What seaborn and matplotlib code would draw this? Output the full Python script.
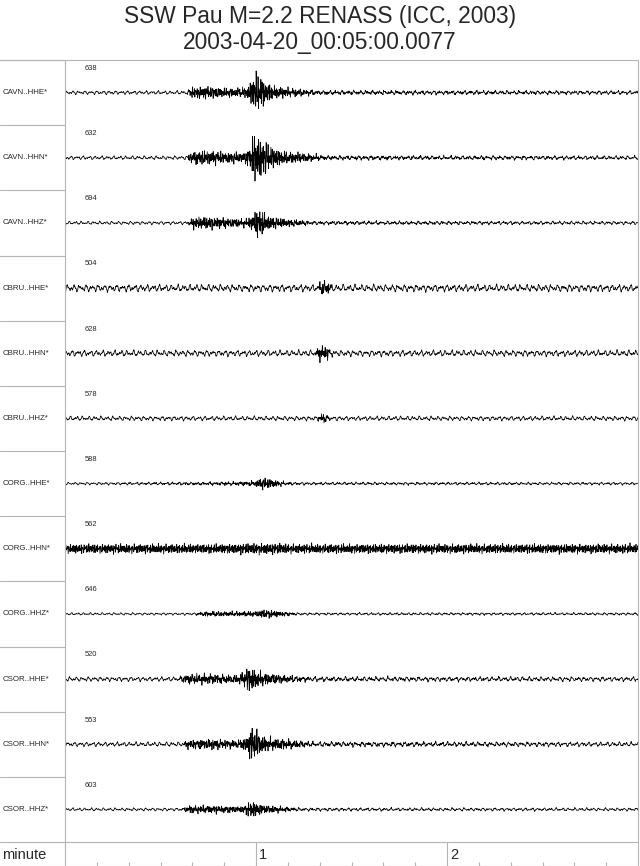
import numpy as np
import pandas as pd
import matplotlib
matplotlib.use('Agg')
import matplotlib.pyplot as plt
import seaborn as sns
from matplotlib.lines import Line2D

# ---- chart data ----
title_line1 = 'SSW Pau M=2.2 RENASS (ICC, 2003)'
title_line2 = '2003-04-20_00:05:00.0077'

channels = ['CAVN..HHE*', 'CAVN..HHN*', 'CAVN..HHZ*',
            'CBRU..HHE*', 'CBRU..HHN*', 'CBRU..HHZ*',
            'CORG..HHE*', 'CORG..HHN*', 'CORG..HHZ*',
            'CSOR..HHE*', 'CSOR..HHN*', 'CSOR..HHZ*']
channel_values = ['638', '632', '694', '504', '628', '578',
                  '588', '562', '646', '520', '553', '603']

# background noise level per trace (normalised amplitude)
noise_level = [1.8, 1.8, 1.6, 3.5, 3.0, 2.2, 1.3, 0.8, 1.2, 2.2, 2.2, 1.5]
# first sample offset (the little step at the start of some traces)
first_sample = [6, 6, 0, 0, 0, 0, 0, 6, 0, 0, 0, 0]

# event envelopes: knot times (s) and amplitude
env_t = [
    [0, 38, 40, 46, 50, 55, 57.5, 59, 60.5, 62, 64, 67, 72, 80, 180],
    [0, 38, 40, 45, 50, 56, 58, 59.5, 61, 63, 66, 69, 75, 82, 180],
    [0, 38.5, 40, 46, 52, 56.5, 58.5, 60, 61.5, 63.5, 67, 72, 78, 180],
    [0, 79, 80.5, 82.5, 84.5, 180],
    [0, 78.5, 80, 82, 84.5, 180],
    [0, 79, 80.5, 82, 83.5, 180],
    [0, 45, 55, 60, 61.5, 64, 68, 72, 180],
    [0, 50, 58, 66, 72, 180],
    [0, 40, 44, 55, 60, 62, 65, 69, 74, 180],
    [0, 35.5, 38, 44, 50, 54, 56, 57.5, 59, 61, 63.5, 68, 77.5, 180],
    [0, 36.5, 39, 46, 52, 55, 57, 58.5, 60, 62, 64, 70, 78, 180],
    [0, 36.5, 39, 46, 52, 55.5, 57, 58.5, 60, 62, 66, 74, 180],
]
env_a = [
    [0, 0, 4.5, 5, 3.5, 3.5, 5, 14, 16, 12, 7, 4.5, 3, 1, 0.5],
    [0, 0, 5, 6, 4.5, 4, 8, 22, 18, 13, 8, 5, 3.5, 1, 0.5],
    [0, 0, 4.5, 5, 3.5, 3, 5, 12, 11, 6, 4, 2.5, 0.8, 0.3],
    [0, 0, 5, 4.5, 0, 0],
    [0, 0, 6, 5, 0, 0],
    [0, 0, 3.5, 3, 0, 0],
    [0, 0.8, 1.2, 2, 5, 4, 1.5, 0.5, 0.3],
    [3.8, 3.8, 4.5, 4.5, 3.8, 3.8],
    [0, 0, 1.8, 1.8, 2, 3.5, 3, 1.5, 0.3, 0.3],
    [0, 0, 3.5, 4, 3, 3, 5, 10, 9, 6, 4.5, 3, 0.8, 0.3],
    [0, 0, 3.5, 4, 3, 3, 6, 14, 12, 7, 5, 3.5, 1, 0.3],
    [0, 0, 3, 3, 2.5, 2.5, 4, 7, 6, 3.5, 2.5, 0.5, 0.2],
]

duration = 180          # seconds shown
minute_labels = ['1', '2']
minute_ticks = [60, 120]
minor_ticks = [10, 20, 30, 40, 50, 70, 80, 90, 100, 110, 130, 140, 150, 160, 170]

# ---- build traces ----
fs = 25.0
t = np.arange(0, duration + 1 / fs, 1 / fs)


def carrier_low(k):
    p = 1.7 * k
    return (np.sin(2 * np.pi * 0.52 * t + p) + 0.7 * np.sin(2 * np.pi * 0.83 * t + 2.1 * p)
            + 0.5 * np.sin(2 * np.pi * 1.37 * t + 0.6 * p)
            + 0.35 * np.sin(2 * np.pi * 2.9 * t + 1.3 * p)) / 2.0


def carrier_high(k):
    p = 2.3 * k + 0.4
    return (np.sin(2 * np.pi * 2.1 * t + p) + 0.8 * np.sin(2 * np.pi * 3.3 * t + 1.7 * p)
            + 0.6 * np.sin(2 * np.pi * 4.7 * t + 0.8 * p)
            + 0.5 * np.sin(2 * np.pi * 1.6 * t + 2.4 * p)) / 2.0


frames = []
for k, name in enumerate(channels):
    env = np.interp(t, env_t[k], env_a[k])
    y = noise_level[k] * carrier_low(k) + env * carrier_high(k)
    y[0] = first_sample[k] if first_sample[k] else y[0]
    frames.append(pd.DataFrame({'time': t, 'amp': y, 'channel': name}))
traces = pd.concat(frames, ignore_index=True)

# ---- figure ----
sns.set_theme(style='white')
plt.rcParams['font.family'] = ['Liberation Sans', 'DejaVu Sans']

W, H = 640, 866
fig = plt.figure(figsize=(6.4, 8.66), dpi=100)


def fx(px):
    return px / W


def fy(py):
    return 1 - py / H


left, right, top, bottom = 65, 638, 60, 842
row_h = (bottom - top) / len(channels)
frame_col = '#b4b4b4'

fig.text(0.5, fy(16), title_line1, ha='center', va='center', fontsize=16.4)
fig.text(0.5, fy(43), title_line2, ha='center', va='center', fontsize=16.4)

for k, name in enumerate(channels):
    row_top = top + k * row_h
    ax = fig.add_axes([fx(left), fy(row_top + row_h), fx(right - left), row_h / H])
    sns.lineplot(data=traces[traces['channel'] == name], x='time', y='amp', ax=ax,
                 color='black', lw=0.55, estimator=None, sort=False)
    ax.set_xlim(0, duration)
    ax.set_ylim(-row_h / 2, row_h / 2)
    ax.axis('off')
    fig.text(fx(3), fy(row_top + row_h / 2), name, ha='left', va='center', fontsize=5.7)
    fig.text(fx(85), fy(row_top + 8.5), channel_values[k], ha='left', va='center', fontsize=5.4)
    # separator in the label column
    fig.add_artist(Line2D([0, fx(left)], [fy(row_top), fy(row_top)], color=frame_col, lw=0.8))

# outer frame
fig.add_artist(Line2D([0, fx(right)], [fy(top), fy(top)], color=frame_col, lw=0.8))
fig.add_artist(Line2D([0, fx(right)], [fy(bottom), fy(bottom)], color=frame_col, lw=0.8))
fig.add_artist(Line2D([0, fx(right)], [fy(865.5), fy(865.5)], color=frame_col, lw=0.8))
fig.add_artist(Line2D([fx(left), fx(left)], [fy(top), 0], color=frame_col, lw=0.8))
fig.add_artist(Line2D([fx(right), fx(right)], [fy(top), 0], color=frame_col, lw=0.8))

# time axis row
tax = fig.add_axes([fx(left), 0, fx(right - left), (H - bottom) / H])
tax.set_xlim(0, duration)
tax.set_ylim(0, 1)
tax.axis('off')
tax.vlines(minor_ticks, 0, 4 / (H - bottom), color=frame_col, lw=0.8)
tax.vlines(minute_ticks, 0, 1, color=frame_col, lw=0.8)
for pos, lab in zip(minute_ticks, minute_labels):
    tax.text(pos + 1.0, 0.45, lab, ha='left', va='center', fontsize=10.5)
fig.text(fx(2), fy(855), 'minute', ha='left', va='center', fontsize=10.5)

fig.savefig('out.png', dpi=100)
